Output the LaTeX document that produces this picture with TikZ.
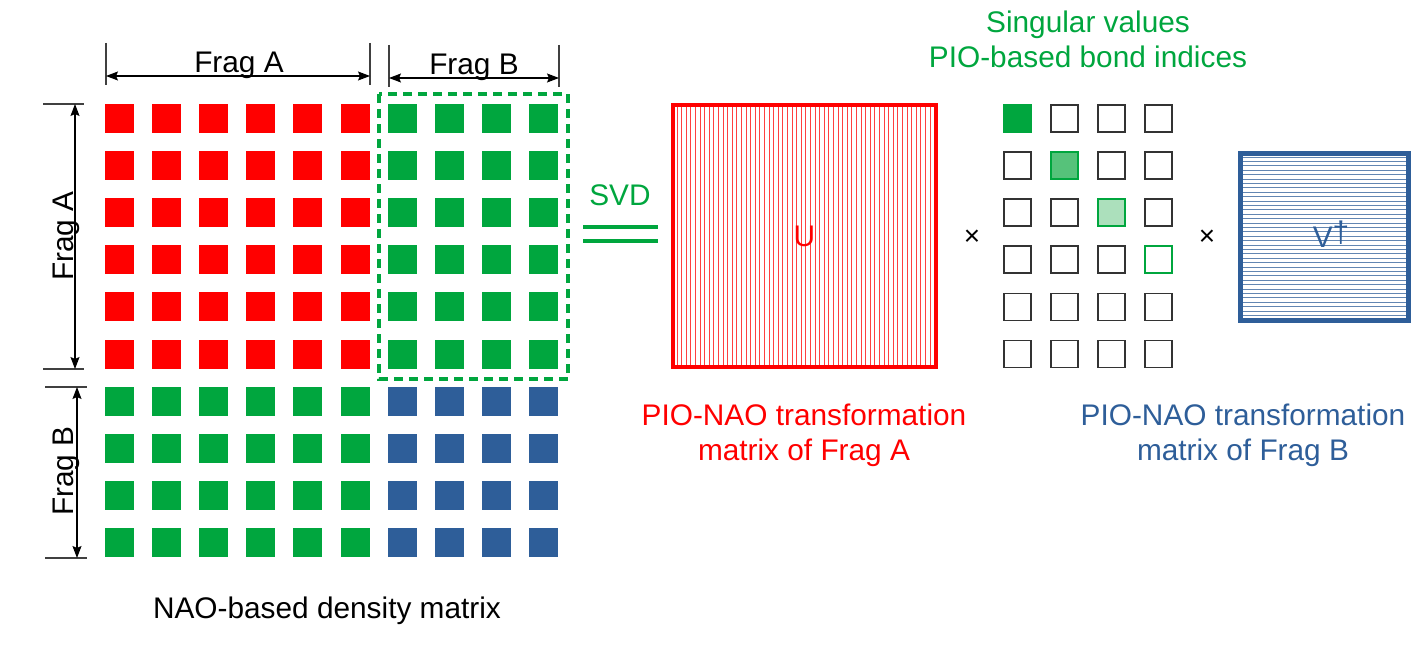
\documentclass[tikz,border=0pt]{standalone}
\usepackage{fontspec}
\setmainfont{Liberation Sans}
\usetikzlibrary{arrows.meta}
\definecolor{fragred}{RGB}{255,0,0}
\definecolor{fraggreen}{RGB}{0,166,62}
\definecolor{fragblue}{RGB}{46,94,153}
\definecolor{midgreen}{RGB}{86,194,122}
\definecolor{palegreen}{RGB}{172,224,188}
\begin{document}
\begin{tikzpicture}[x=1pt,y=-1pt,line join=miter,
	lbl/.style={font=\fontsize{29.8}{35}\selectfont,inner sep=0pt,anchor=base},
	cell/.style={minimum size=29pt,inner sep=0pt,outer sep=0pt},
	svcell/.style={cell,minimum size=27pt,line width=1.7pt},
	tick/.style={black!75,line width=1.2pt},
	dim/.style={line width=1.2pt,{Stealth[length=12pt,width=9pt,inset=2pt]}-{Stealth[length=12pt,width=9pt,inset=2pt]}}]
	\useasboundingbox (0,0) rectangle (1417,661);
	% density matrix
	\foreach \i in {0,...,5} \foreach \j in {0,...,5} \node[cell,fill=fragred] (d-\i-\j) at ({119.5+47.1*\j},{118.5+47.1*\i}) {};
	\foreach \i in {0,...,5} \foreach \j in {6,...,9} \node[cell,fill=fraggreen] (d-\i-\j) at ({119.5+47.1*\j},{118.5+47.1*\i}) {};
	\foreach \i in {6,...,9} \foreach \j in {0,...,5} \node[cell,fill=fraggreen] (d-\i-\j) at ({119.5+47.1*\j},{118.5+47.1*\i}) {};
	\foreach \i in {6,...,9} \foreach \j in {6,...,9} \node[cell,fill=fragblue] (d-\i-\j) at ({119.5+47.1*\j},{118.5+47.1*\i}) {};
	\draw[fraggreen,line width=4pt,dash pattern=on 9pt off 6pt] (379,94) rectangle (568,379);
	% fragment dimensions
	\coordinate (fa-l) at (106,76) ; \coordinate (fa-r) at (370,76) ;
	\coordinate (fb-l) at (389,78) ; \coordinate (fb-r) at (559,78) ;
	\draw[tick] (106,43)--(106,85) ; \draw[tick] (370,43)--(370,85) ;
	\draw[tick] (389,45)--(389,87) ; \draw[tick] (559,45)--(559,87) ;
	\draw[dim] (fa-l)--(fa-r) ; \draw[dim] (fb-l)--(fb-r) ;
	\node[lbl] (fa-top) at (239,73) {Frag A};
	\node[lbl] (fb-top) at (474,75) {Frag B};
	\coordinate (fa-t) at (75,104) ; \coordinate (fa-b) at (75,369) ;
	\coordinate (fb-t) at (77,387) ; \coordinate (fb-b) at (77,558) ;
	\draw[tick] (43,104)--(84,104) ; \draw[tick] (43,369)--(84,369) ;
	\draw[tick] (45,387)--(87,387) ; \draw[tick] (45,558)--(87,558) ;
	\draw[dim] (fa-t)--(fa-b) ; \draw[dim] (fb-t)--(fb-b) ;
	\node[lbl,rotate=90] (fa-side) at (73,236) {Frag A};
	\node[lbl,rotate=90] (fb-side) at (73,471) {Frag B};
	\node[lbl] (dm) at (327,618) {NAO-based density matrix};
	% svd sign
	\node[lbl,fraggreen] (svd) at (620,205) {SVD};
	\draw[fraggreen,line width=4pt] (583,227)--(658,227) ;
	\draw[fraggreen,line width=4pt] (583,241)--(658,241) ;
	% U
	\foreach \k in {0,...,55} \draw[fragred!75,line width=0.8pt] ({677+4.6*\k},105)--({677+4.6*\k},367) ;
	\node[draw=fragred,line width=4pt,minimum width=263pt,minimum height=262pt,inner sep=0pt,text=fragred,font=\fontsize{29.8}{35}\selectfont] (U) at (804.5,236) {U};
	\node[lbl,fragred] (ua1) at (804,425) {PIO-NAO transformation};
	\node[lbl,fragred] (ua2) at (804,460) {matrix of Frag A};
	\node[font=\fontsize{28}{30}\selectfont,inner sep=0pt] (t1) at (972,238) {×};
	% singular values
	\foreach \i in {0,...,5} \foreach \j in {0,...,3} {
		\ifnum\i=\j\relax\else
		\node[svcell,draw=black!80] (s-\i-\j) at ({1017.5+47.1*\j},{118.5+47.1*\i}) {};
		\fi
	}
	\foreach \k/\c in {0/fraggreen,1/midgreen,2/palegreen,3/white}
		\node[svcell,line width=2pt,draw=fraggreen,fill=\c] (s-\k-\k) at ({1017.5+47.1*\k},{118.5+47.1*\k}) {};
	\node[lbl,fraggreen] (sv1) at (1088,33) {Singular values};
	\node[lbl,fraggreen] (sv2) at (1088,67) {PIO-based bond indices};
	\node[font=\fontsize{28}{30}\selectfont,inner sep=0pt] (t2) at (1207,238) {×};
	% V dagger
	\foreach \k in {0,...,36} \draw[fragblue!75,line width=0.8pt] (1243,{157+4.4*\k})--(1406,{157+4.4*\k}) ;
	\node[draw=fragblue,line width=5pt,minimum width=168pt,minimum height=167pt,inner sep=0pt] (V) at (1324.5,237) {};
	\node[lbl,fragblue] (vlbl) at (1331,247) {V\raisebox{5pt}{†}};
	\node[lbl,fragblue] (vb1) at (1243,425) {PIO-NAO transformation};
	\node[lbl,fragblue] (vb2) at (1243,460) {matrix of Frag B};
\end{tikzpicture}
\end{document}
